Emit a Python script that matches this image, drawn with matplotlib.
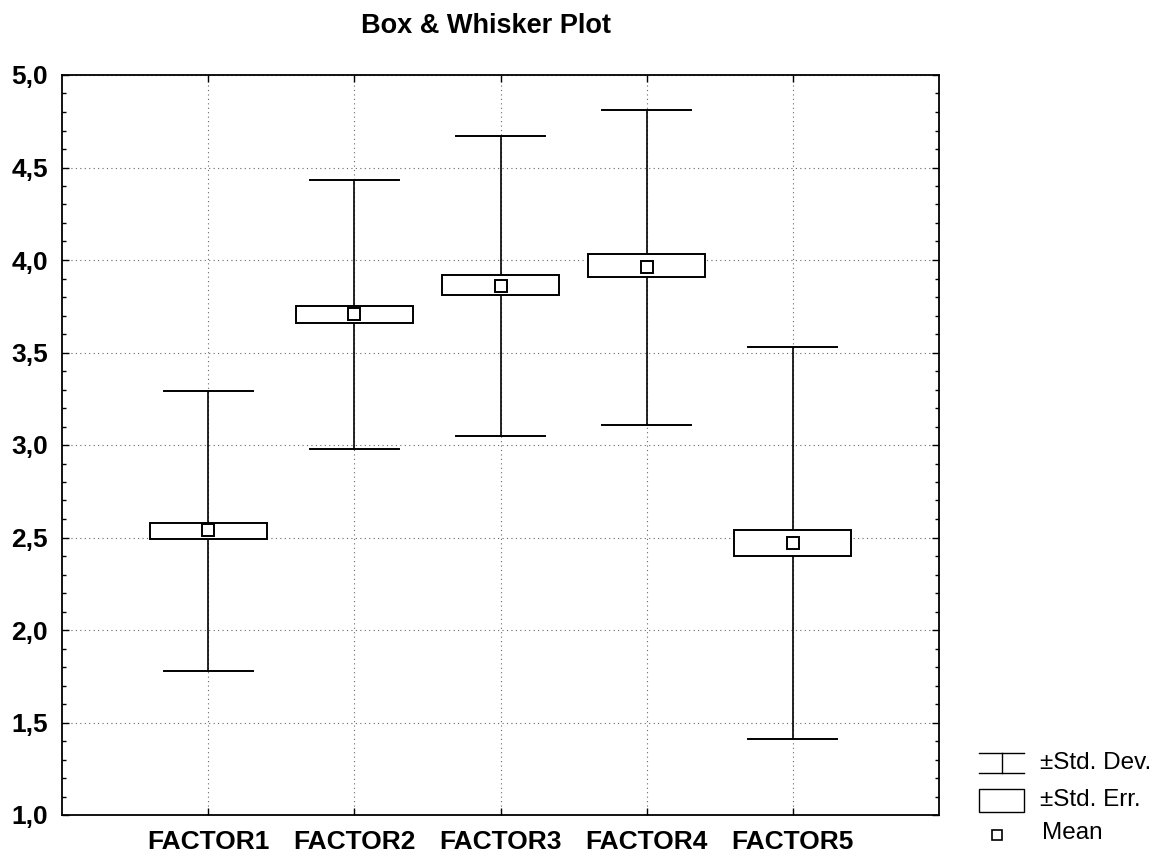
import numpy as np
import matplotlib
matplotlib.use('Agg')
import matplotlib.pyplot as plt
from matplotlib.patches import Rectangle
from matplotlib.ticker import FuncFormatter, MultipleLocator

plt.rcParams['font.family'] = ['Liberation Sans', 'DejaVu Sans']

# data
factors = ['FACTOR1', 'FACTOR2', 'FACTOR3', 'FACTOR4', 'FACTOR5']
means = [2.54, 3.71, 3.86, 3.96, 2.47]
sd_low = [1.78, 2.98, 3.05, 3.11, 1.41]
sd_high = [3.29, 4.43, 4.67, 4.81, 3.53]
se_low = [2.49, 3.66, 3.81, 3.91, 2.40]
se_high = [2.58, 3.75, 3.92, 4.03, 2.54]

fig = plt.figure(figsize=(11.64, 8.6), dpi=100)
ax = fig.add_axes([62/1164, 45/860, 877/1164, 740/860])

box_w = 0.8
cap_w = 0.61
x = np.arange(1, len(factors) + 1)

for i in range(len(factors)):
    xi = x[i]
    ax.plot([xi, xi], [sd_low[i], sd_high[i]], color='black', lw=1.2, zorder=2)
    ax.plot([xi - cap_w/2, xi + cap_w/2], [sd_high[i], sd_high[i]], color='black', lw=1.4, zorder=2)
    ax.plot([xi - cap_w/2, xi + cap_w/2], [sd_low[i], sd_low[i]], color='black', lw=1.4, zorder=2)
    ax.add_patch(Rectangle((xi - box_w/2, se_low[i]), box_w, se_high[i] - se_low[i],
                           facecolor='white', edgecolor='black', lw=1.4, zorder=3))
    ax.plot(xi, means[i], marker='s', ms=9, mfc='white', mec='black', mew=1.4, zorder=4)

ax.set_xlim(0, 6)
ax.set_ylim(1.0, 5.0)
ax.set_xticks(x)
ax.set_xticklabels(factors, fontsize=19, fontweight='bold')
ax.yaxis.set_major_locator(MultipleLocator(0.5))
ax.yaxis.set_minor_locator(MultipleLocator(0.1))
ax.yaxis.set_major_formatter(FuncFormatter(lambda v, p: ('%.1f' % v).replace('.', ',')))
for lab in ax.get_yticklabels():
    lab.set_fontsize(19)
    lab.set_fontweight('bold')
ax.tick_params(axis='both', which='both', direction='in', top=True, right=True, width=1)
ax.tick_params(axis='y', which='major', length=5, pad=10)
ax.tick_params(axis='y', which='minor', length=3)
ax.tick_params(axis='x', which='major', length=5, pad=11)
ax.grid(True, which='major', color='#666666', linestyle=(0, (1, 3)), lw=0.8)
for s in ax.spines.values():
    s.set_linewidth(1.3)

fig.text(486/1164, 1 - 33/860, 'Box & Whisker Plot', ha='center', va='baseline',
         fontsize=19.5, fontweight='bold')

# legend drawn in its own small axes (local units = pixels from x=960, y=745)
lax = fig.add_axes([960/1164, 0, 204/1164, 115/860])
lax.set_xlim(0, 204)
lax.set_ylim(115, 0)
lax.axis('off')
lax.plot([19, 64], [8, 8], color='black', lw=1)
lax.plot([42, 42], [8, 28], color='black', lw=1)
lax.plot([19, 64], [28, 28], color='black', lw=1)
lax.text(80, 18, '±Std. Dev.', fontsize=17.5, va='center')
lax.add_patch(Rectangle((19, 44), 45, 23, facecolor='white', edgecolor='black', lw=1))
lax.text(80, 55, '±Std. Err.', fontsize=17.5, va='center')
lax.plot(37, 90, marker='s', ms=7, mfc='white', mec='black', mew=1.2)
lax.text(82, 88, 'Mean', fontsize=17.5, va='center')

fig.savefig('out.png', dpi=100)
